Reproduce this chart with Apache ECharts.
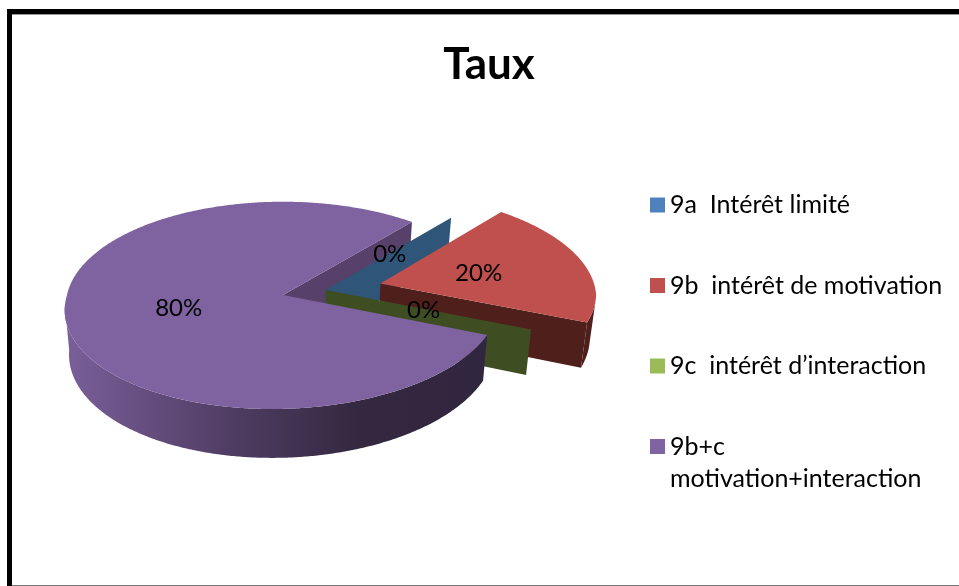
<!DOCTYPE html>
<html>
<head>
<meta charset="utf-8">
<style>html,body{margin:0;padding:0;background:#fff}#c{width:959px;height:586px}</style>
<script src="https://cdn.jsdelivr.net/npm/echarts@6/dist/echarts.min.js"></script>
</head>
<body>
<div id="c"></div>
<script>
// ---- data ----
const chartTitle = 'Taux';
const categories = ['9a  Intérêt limité', '9b  intérêt de motivation', '9c  intérêt d’interaction', '9b+c\nmotivation+interaction'];
const values = [0, 20, 0, 80];

// ---- style ----
const topColors = ['#4f81bd', '#c0504d', '#9bbb59', '#7f62a0'];
const legendColors = ['#4f81bd', '#c0504d', '#9bbb59', '#8064a2'];
const radialWallColors = ['#2f5578', '#4f1f1c', '#3f4e22', '#574069'];
const outerWallStops = [
  [[0, '#2f5578'], [1, '#2f5578']],
  [[0, '#4f1f1c'], [1, '#4f1f1c']],
  [[0, '#3f4e22'], [1, '#3f4e22']],
  [[0, '#31263f'], [0.3, '#33283f'], [0.6, '#4f3c62'], [1, '#7a5f9a']]
];
const explosions = [0.205, 0.47, 0.205, 0];
const wallLayers = [2, 3, 5, 1];
const outerLayers = [2, 3, 5, 6];
const topLayers = [2, 4, 5, 6];
const labelShiftX = [-1, -3, -3, 3];
const labelShiftY = [2, 2, 1, 1];
const firstAngleDeg = 40;

// ---- projection of the tilted pie ----
const cx = 283, cy = 295, radiusX = 216, radiusY = 102.6, depth = 44;
const persp = 0.1, baseShrink = 0.98, lean = 10;
function project(u, v, low) {
  const s = 1 / (1 - persp * v);
  const f = low ? baseShrink : 1;
  return [cx + (radiusX * u - lean * Math.max(v, 0)) * s * f, cy + radiusY * v * s + (low ? depth * s : 0)];
}
const dirOf = d => [Math.sin(d * Math.PI / 180), -Math.cos(d * Math.PI / 180)];

// slices' angles from values
const total = values.reduce((a, b) => a + b, 0);
const spans = [];
let cursor = firstAngleDeg;
values.forEach(v => { const e = cursor + v / total * 360; spans.push([cursor, e]); cursor = e; });
// exploded slices all move along the middle of the gap left by the biggest one
const biggest = values.indexOf(Math.max(...values));
const explodeDir = dirOf((spans[biggest][1] + spans[biggest][0]) / 2 + 180);

function renderSlice(i) {
  const [a0, a1] = spans[i];
  const O = [explodeDir[0] * explosions[i], explodeDir[1] * explosions[i]];
  const eye = [-O[0], 1 / persp - O[1]];
  const at = (d, r) => { const n = dirOf(d); return [O[0] + n[0] * r, O[1] + n[1] * r]; };
  const children = [];

  // radial walls that face the viewer
  [[a0, a0 - 90], [a1, a1 + 90]].forEach(([edge, normal]) => {
    const n = dirOf(normal);
    if (n[0] * eye[0] + n[1] * eye[1] <= 0) return;
    const p = at(edge, 1);
    children.push({
      type: 'polygon', z2: wallLayers[i],
      shape: { points: [project(O[0], O[1]), project(p[0], p[1]), project(p[0], p[1], true), project(O[0], O[1], true)] },
      style: { fill: radialWallColors[i] }
    });
  });

  // outer curved wall, only where it faces the viewer
  const up = [], down = [];
  const steps = Math.max(2, Math.ceil((a1 - a0) * 2));
  if (a1 > a0) {
    for (let k = 0; k <= steps; k++) {
      const d = a0 + (a1 - a0) * k / steps;
      const n = dirOf(d);
      if (n[0] * eye[0] + n[1] * eye[1] - 1 <= 0) continue;
      const p = at(d, 1);
      up.push(project(p[0], p[1]));
      down.push(project(p[0], p[1], true));
    }
  }
  if (up.length > 1) {
    const pts = up.concat(down.reverse());
    const xs = pts.map(p => p[0]);
    const minX = Math.min(...xs), maxX = Math.max(...xs);
    children.push({
      type: 'polygon', z2: outerLayers[i],
      shape: { points: pts },
      style: {
        fill: new echarts.graphic.LinearGradient(maxX, 0, minX, 0,
          outerWallStops[i].map(s => ({ offset: s[0], color: s[1] })), true)
      }
    });
  }

  // top face
  if (a1 > a0) {
    const face = [project(O[0], O[1])];
    const n = Math.ceil((a1 - a0) * 2);
    for (let k = 0; k <= n; k++) {
      const p = at(a0 + (a1 - a0) * k / n, 1);
      face.push(project(p[0], p[1]));
    }
    children.push({ type: 'polygon', z2: topLayers[i], shape: { points: face }, style: { fill: topColors[i] } });
  }

  // percentage label
  const lp = at((a0 + a1) / 2, 0.5);
  const lxy = project(lp[0], lp[1]);
  children.push({
    type: 'text', z2: 20,
    style: {
      x: lxy[0] + labelShiftX[i], y: lxy[1] + labelShiftY[i], text: Math.round(values[i] / total * 100) + '%',
      align: 'center', verticalAlign: 'middle',
      font: '24px Lato', fill: '#000'
    }
  });
  return { type: 'group', children };
}

const rowGap = 80.5, lineH = 32;
const chart = echarts.init(document.getElementById('c'), null, { renderer: 'canvas' });
chart.setOption({
  animation: false,
  backgroundColor: '#fff',
  title: {
    text: chartTitle, left: 484, top: 38, textAlign: 'center',
    textStyle: { fontFamily: 'Lato', fontWeight: 'bold', fontSize: 44, color: '#000' }
  },
  legend: {
    orient: 'vertical', left: 650, top: 205 - lineH * 1.5,
    icon: 'rect', itemWidth: 15, itemHeight: 15,
    itemGap: rowGap - 3 * lineH,
    selectedMode: false, padding: 0,
    data: categories,
    // blank lines keep each square beside the first line of its label
    formatter: n => '\n' + n + (n.includes('\n') ? '' : '\n'),
    textStyle: { fontFamily: 'Lato', fontSize: 25, color: '#000', lineHeight: lineH }
  },
  graphic: [
    { type: 'rect', shape: { x: 7, y: 9, width: 952, height: 5 }, style: { fill: '#000' }, silent: true },
    { type: 'rect', shape: { x: 7, y: 9, width: 5, height: 577 }, style: { fill: '#000' }, silent: true },
    { type: 'rect', shape: { x: 12, y: 14, width: 947, height: 1 }, style: { fill: '#999' }, silent: true },
    { type: 'rect', shape: { x: 12, y: 585, width: 947, height: 1 }, style: { fill: '#777' }, silent: true }
  ],
  series: categories.map((name, i) => ({
    type: 'custom', name, coordinateSystem: 'none', silent: true,
    itemStyle: { color: legendColors[i] },
    data: [{ value: values[i] }],
    renderItem: () => renderSlice(i)
  }))
});
</script>
</body>
</html>
